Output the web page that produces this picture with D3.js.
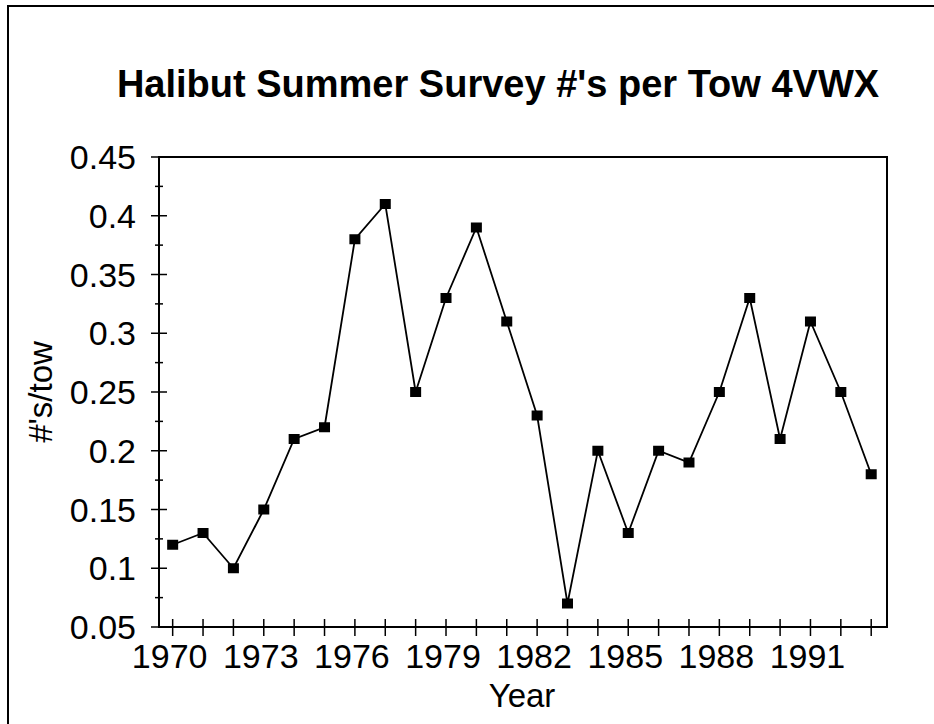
<html>
  <head>
    <script src="https://d3js.org/d3.v7.min.js"></script>
    <style>
      body { margin: 0; background: #fff; }
      text { font-family: "Liberation Sans", Arial, sans-serif; fill: #000; }
      .title { font-size: 38px; font-weight: bold; text-anchor: middle; }
      .tick-label { font-size: 34px; }
      .axis-label { font-size: 33px; text-anchor: middle; }
    </style>
  </head>
  <body>
    <svg id="chart" width="934" height="724"></svg>
    <script>
      // data
      const years = d3.range(1970, 1994);
      const perTow = [0.12, 0.13, 0.10, 0.15, 0.21, 0.22, 0.38, 0.41, 0.25, 0.33, 0.39, 0.31,
                      0.23, 0.07, 0.20, 0.13, 0.20, 0.19, 0.25, 0.33, 0.21, 0.31, 0.25, 0.18];
      const yTicks = [0.05, 0.1, 0.15, 0.2, 0.25, 0.3, 0.35, 0.4, 0.45];
      const yMinorTicks = [0.075, 0.125, 0.175, 0.225, 0.275, 0.325, 0.375, 0.425];
      const xLabels = [1970, 1973, 1976, 1979, 1982, 1985, 1988, 1991];

      const data = years.map((y, i) => ({year: y, value: perTow[i]}));

      const svg = d3.select('svg#chart');
      const plot = {left: 159, right: 887, top: 157, bottom: 627};

      // scanned page frame (only left + top edges visible)
      svg.append("path")
        .attr("d", "M8,724 L8,6 L934,6")
        .attr("fill", "none")
        .attr("stroke", "#000")
        .attr("stroke-width", 2);

      const x = d3.scaleLinear()
        .domain([1969.55, 1993.52])
        .range([plot.left, plot.right]);

      const y = d3.scaleLinear()
        .domain([0.05, 0.45])
        .range([plot.bottom, plot.top]);

      svg.append("text")
        .attr("class", "title")
        .attr("x", 498)
        .attr("y", 97)
        .text("Halibut Summer Survey #'s per Tow 4VWX");

      // plot box
      svg.append("rect")
        .attr("x", plot.left)
        .attr("y", plot.top)
        .attr("width", plot.right - plot.left)
        .attr("height", plot.bottom - plot.top)
        .attr("fill", "none")
        .attr("stroke", "#000")
        .attr("stroke-width", 2);

      // y axis, ticks cross the line
      const yAxis = svg.append("g");
      yAxis.selectAll("line.major")
        .data(yTicks)
        .join("line")
        .attr("class", "major")
        .attr("x1", plot.left - 8)
        .attr("x2", plot.left + 8)
        .attr("y1", d => y(d))
        .attr("y2", d => y(d))
        .attr("stroke", "#000")
        .attr("stroke-width", 1.5);
      yAxis.selectAll("line.minor")
        .data(yMinorTicks)
        .join("line")
        .attr("class", "minor")
        .attr("x1", plot.left - 4)
        .attr("x2", plot.left + 4)
        .attr("y1", d => y(d))
        .attr("y2", d => y(d))
        .attr("stroke", "#000")
        .attr("stroke-width", 1.5);
      yAxis.selectAll("text")
        .data(yTicks)
        .join("text")
        .attr("class", "tick-label")
        .attr("x", plot.left - 23)
        .attr("y", d => y(d))
        .attr("dy", "0.36em")
        .attr("text-anchor", "end")
        .text(d => d3.format("~g")(d));

      // x axis, one tick per year, label every third
      const xAxis = svg.append("g");
      xAxis.selectAll("line")
        .data(years)
        .join("line")
        .attr("x1", d => x(d))
        .attr("x2", d => x(d))
        .attr("y1", plot.bottom - 8)
        .attr("y2", plot.bottom + 9)
        .attr("stroke", "#000")
        .attr("stroke-width", 1.5);
      xAxis.selectAll("text")
        .data(xLabels)
        .join("text")
        .attr("class", "tick-label")
        .attr("x", d => x(d) - 3)
        .attr("y", 668)
        .attr("text-anchor", "middle")
        .text(d => d);

      svg.append("text")
        .attr("class", "axis-label")
        .attr("x", 522)
        .attr("y", 707)
        .text("Year");

      svg.append("text")
        .attr("class", "axis-label")
        .attr("transform", "translate(52,392) rotate(-90)")
        .text("#'s/tow");

      // series
      const line = d3.line()
        .x(d => x(d.year))
        .y(d => y(d.value));

      svg.append("path")
        .datum(data)
        .attr("d", line)
        .attr("fill", "none")
        .attr("stroke", "#000")
        .attr("stroke-width", 1.8);

      svg.selectAll("rect.marker")
        .data(data)
        .join("rect")
        .attr("class", "marker")
        .attr("x", d => x(d.year) - 5.5)
        .attr("y", d => y(d.value) - 5)
        .attr("width", 11)
        .attr("height", 10)
        .attr("fill", "#000");
    </script>
  </body>
</html>
